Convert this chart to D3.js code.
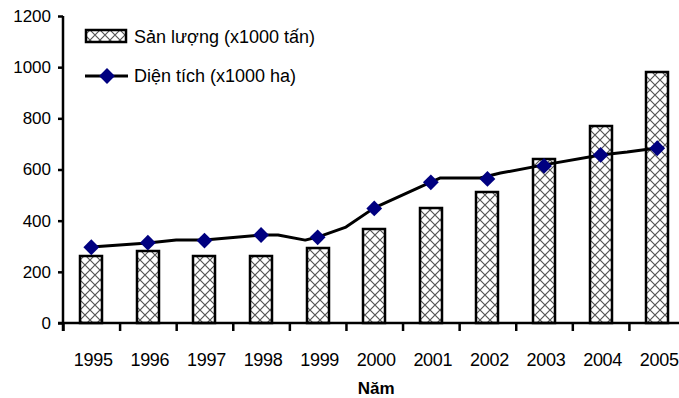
<!DOCTYPE html>
<html>
<head>
<meta charset="utf-8">
<script src="https://cdn.jsdelivr.net/npm/d3@7/dist/d3.min.js"></script>
<style>
  html, body { margin: 0; padding: 0; background: #fff; }
  svg { display: block; font-family: "Liberation Sans", Arial, sans-serif; }
</style>
</head>
<body>
<svg id="chart" width="679" height="398"></svg>
<script>
// ---- data ----
const years = ["1995","1996","1997","1998","1999","2000","2001","2002","2003","2004","2005"];
const sanLuong = [263, 282, 263, 263, 292, 366, 451, 513, 640, 771, 980];     // x1000 tấn (bars)
const dienTich = [296, 314, 322, 344, 335, 448, 550, 563, 614, 657, 683];     // x1000 ha (markers)
// trace of the connecting line as drawn in the original (year position, value)
const lineYears  = [1995, 1996, 1996.5, 1997, 1998, 1998.3, 1998.78, 1999, 1999.5, 2000, 2001, 2001.17, 2001.87, 2002.23, 2003, 2004, 2004.47, 2005];
const lineValues = [297, 313, 324, 324, 344, 344, 324, 336, 375, 450, 551, 567, 567, 586, 618, 657, 668, 684];
const yTicks = [0, 200, 400, 600, 800, 1000, 1200];
const legendLabels = ["Sản lượng (x1000 tấn)", "Diện tích (x1000 ha)"];
const xTitle = "Năm";

// ---- layout ----
const svg = d3.select("#chart");
const x0 = 63, x1 = 685.5, yTop = 16, yBase = 323;

const y = d3.scaleLinear().domain([0, 1200]).range([yBase, yTop]);
const x = d3.scaleBand().domain(years).range([x0, x1]).paddingInner(0.61).paddingOuter(0.305);
const xCenter = d => x(d) + x.bandwidth() / 2;
const xLine = d3.scaleLinear().domain([1995, 2005]).range([xCenter("1995"), xCenter("2005")]);
const xEdge = d3.scaleLinear().domain([0, years.length]).range([x0, x1]);

// pattern
const defs = svg.append("defs");
const pat = defs.append("pattern").attr("id", "hatch").attr("patternUnits", "userSpaceOnUse")
  .attr("width", 10).attr("height", 10).attr("x", 0).attr("y", 0);
pat.append("rect").attr("width", 10).attr("height", 10).attr("fill", "#fff");
pat.append("path").attr("d", "M0,0L10,10M10,0L0,10").attr("stroke", "#555").attr("stroke-width", 1.2);

// bars
svg.append("g").selectAll("rect").data(years).join("rect")
  .attr("x", d => Math.round(x(d)))
  .attr("y", (d, i) => Math.round(y(sanLuong[i])))
  .attr("width", Math.round(x.bandwidth()))
  .attr("height", (d, i) => yBase - Math.round(y(sanLuong[i])))
  .attr("fill", "url(#hatch)")
  .attr("stroke", "#000").attr("stroke-width", 2.5);

// y axis
const yAxis = svg.append("g").attr("transform", `translate(${x0},0)`)
  .call(d3.axisLeft(y).tickValues(yTicks).tickFormat(d3.format("d")).tickSize(5).tickPadding(7).tickSizeOuter(0));
yAxis.select(".domain").remove();
yAxis.selectAll(".tick line").attr("stroke", "#000").attr("stroke-width", 2.5);
yAxis.selectAll(".tick text").attr("font-size", 17).attr("fill", "#000");
svg.append("line").attr("x1", x0).attr("x2", x0).attr("y1", yTop).attr("y2", yBase + 8)
  .attr("stroke", "#000").attr("stroke-width", 2.5);

// x axis
const xAxis = svg.append("g").attr("transform", `translate(0,${yBase})`)
  .call(d3.axisBottom(xEdge).tickValues(d3.range(0, years.length)).tickSize(8).tickFormat("").tickSizeOuter(0));
xAxis.select(".domain").remove();
xAxis.selectAll(".tick line").attr("stroke", "#000").attr("stroke-width", 2.5);
svg.append("line").attr("x1", x0 - 5).attr("x2", x1).attr("y1", yBase).attr("y2", yBase)
  .attr("stroke", "#000").attr("stroke-width", 2.5);

svg.append("g").selectAll("text").data(years).join("text")
  .attr("x", d => xCenter(d) + 2)
  .attr("y", 366)
  .attr("text-anchor", "middle")
  .attr("font-size", 18)
  .attr("letter-spacing", -0.3)
  .text(d => d);

svg.append("text").attr("x", (x0 + x1) / 2 + 2).attr("y", 394)
  .attr("text-anchor", "middle").attr("font-size", 17).attr("font-weight", "bold").text(xTitle);

// line
const lineGen = d3.line().x(d => xLine(d[0])).y(d => y(d[1]));
svg.append("path").datum(lineYears.map((t, i) => [t, lineValues[i]]))
  .attr("d", lineGen).attr("fill", "none").attr("stroke", "#000").attr("stroke-width", 3)
  .attr("stroke-linejoin", "round");

const diamond = d3.symbol(d3.symbolSquare, 125);
svg.append("g").selectAll("path").data(years).join("path")
  .attr("d", diamond)
  .attr("transform", (d, i) => `translate(${xCenter(d)},${y(dienTich[i])}) rotate(45)`)
  .attr("fill", "#000080");

// legend
const lg = svg.append("g");
lg.append("rect").attr("x", 86).attr("y", 30).attr("width", 40).attr("height", 12)
  .attr("fill", "url(#hatch)").attr("stroke", "#000").attr("stroke-width", 2.5);
lg.append("text").attr("x", 134).attr("y", 43).attr("font-size", 18).text(legendLabels[0]);
lg.append("line").attr("x1", 85).attr("x2", 128).attr("y1", 76).attr("y2", 76)
  .attr("stroke", "#000").attr("stroke-width", 3);
lg.append("path").attr("d", diamond).attr("transform", "translate(107,76) rotate(45)").attr("fill", "#000080");
lg.append("text").attr("x", 134).attr("y", 82).attr("font-size", 18).text(legendLabels[1]);
</script>
</body>
</html>
